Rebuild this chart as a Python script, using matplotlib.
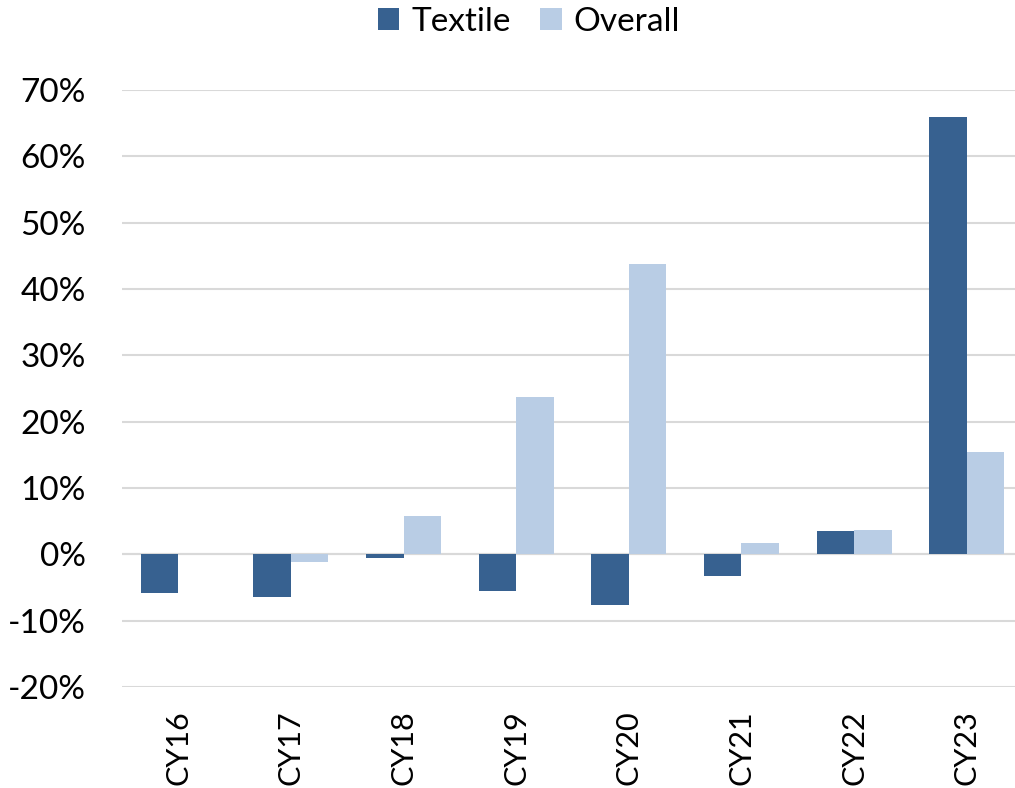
import matplotlib
matplotlib.use("Agg")
import matplotlib.pyplot as plt
import numpy as np
from matplotlib.ticker import FuncFormatter

categories = ["CY16", "CY17", "CY18", "CY19", "CY20", "CY21", "CY22", "CY23"]
textile = [-5.8, -6.5, -0.5, -5.5, -7.6, -3.2, 3.5, 65.9]
overall = [0.0, -1.2, 5.8, 23.7, 43.8, 1.7, 3.7, 15.5]
y_ticks = [-20, -10, 0, 10, 20, 30, 40, 50, 60, 70]

plt.rcParams["font.family"] = ["Lato", "DejaVu Sans"]

fig = plt.figure(figsize=(10.15, 7.88), dpi=100)
ax = fig.add_axes([122 / 1015, 101 / 788, 901 / 1015, 597 / 788])

x = np.arange(len(categories))
w = 1 / 3
ax.bar(x - w / 2, textile, w, color="#376190", label="Textile", zorder=3)
ax.bar(x + w / 2, overall, w, color="#b9cde5", label="Overall", zorder=3)

ax.set_xlim(-0.5, len(categories) - 0.5)
ax.set_ylim(-20, 70)
ax.set_yticks(y_ticks)
ax.yaxis.set_major_formatter(FuncFormatter(lambda v, p: f"{v:.0f}%"))
ax.grid(axis="y", color="#d9d9d9", linewidth=1.5, zorder=0)
ax.axhline(0, color="#d9d9d9", linewidth=1.5, zorder=1)
for s in ax.spines.values():
    s.set_visible(False)
ax.tick_params(axis="both", length=0)
ax.tick_params(axis="y", pad=26, labelsize=24)
ax.set_xticks(x)
ax.set_xticklabels(categories, rotation=90, va="top", ha="center")
ax.tick_params(axis="x", pad=17, labelsize=22)

fig.legend(loc="center", bbox_to_anchor=(529 / 1015, 1 - 22 / 788), ncol=2, frameon=False,
           fontsize=24, handlelength=0.65, handleheight=0.65, handletextpad=0.35,
           columnspacing=0.9)

fig.savefig("out.png", dpi=100)
